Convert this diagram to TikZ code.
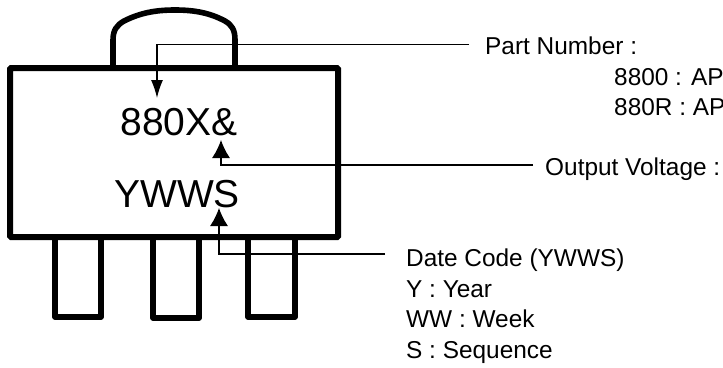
\documentclass[tikz,border=0pt]{standalone}
\usepackage{fontspec}
\setmainfont{Liberation Sans}
\usetikzlibrary{arrows.meta,calc}
\begin{document}
\begin{tikzpicture}[x=1pt,y=-1pt,
    package/.style={rectangle, draw, line width=6pt, rounded corners=1pt, outer sep=0pt, minimum width=328pt, minimum height=169pt},
    outline/.style={draw, line width=5.6pt, line join=round},
    marking/.style={anchor=base, inner sep=0pt, font=\fontsize{39}{39}\selectfont},
    label/.style={anchor=base west, inner sep=0pt, font=\fontsize{24.4}{24.4}\selectfont},
    line/.style={draw, line width=1.3pt, -{Latex[length=18pt,width=18pt]}},
    narrowline/.style={line, -{Latex[length=18pt,width=12pt]}}]

    \useasboundingbox (0,0) rectangle (723,367);

    \node [package] (body) at (174,152.5) {};
    \path [outline] (113,65) -- (113,40) .. controls (113,30) and (117,25) .. (124,21) .. controls (140,13) and (155,10) .. (175,10) .. controls (195,10) and (210,13) .. (225,21) .. controls (232,25) and (235,30) .. (235,40) -- (235,65);
    \path [outline] (55,240) -- (55,317) -- (101,317) -- (101,240);
    \path [outline] (153,240) -- (153,318) -- (199,318) -- (199,240);
    \path [outline] (248,240) -- (248,317) -- (295,317) -- (295,240);

    \node [marking] (partmark) at (179,135) {880X\&};
    \node [marking] (datemark) at (177,207) {YWWS};

    \node [label] (partnum) at (485,54) {Part Number :};
    \node [label] (ap8800) at (614,85.6) {8800 : AP};
    \node [label] (ap880r) at (614,115.6) {880R : AP};
    \node [label] (voltage) at (545,175.7) {Output Voltage :};
    \node [label] (datecode) at (406,266.7) {Date Code (YWWS)};
    \node [label] (year) at ([yshift=-30.5pt]datecode.base west) {Y : Year};
    \node [label] (week) at ([yshift=-30.5pt]year.base west) {WW : Week};
    \node [label] (sequence) at ([yshift=-30.5pt]week.base west) {S : Sequence};

    \coordinate (partbend) at (157,44.5);
    \coordinate (parttip) at (157,98);
    \coordinate (voltbend) at (221,165);
    \coordinate (volttip) at (221,140);
    \coordinate (datebend) at (219,254);
    \coordinate (datetip) at (219,208);

    \path [narrowline] ([xshift=-16pt]partnum.west |- partbend) -- (partbend) -- (parttip);
    \path [line] ([xshift=-12pt]voltage.west |- voltbend) -- (voltbend) -- (volttip);
    \path [line] ([xshift=-21pt]datecode.west |- datebend) -- (datebend) -- (datetip);
\end{tikzpicture}
\end{document}
